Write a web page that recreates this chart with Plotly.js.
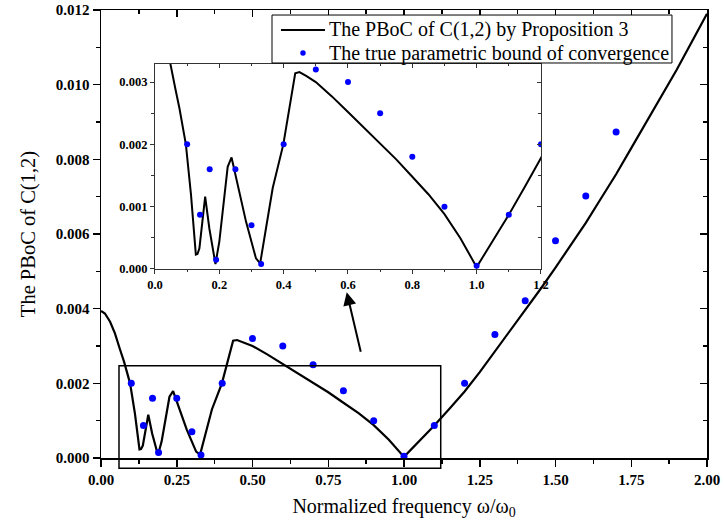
<!DOCTYPE html>
<html>
<head>
<meta charset="utf-8">
<script src="https://cdn.plot.ly/plotly-3.0.1.min.js"></script>
<style>html,body{margin:0;padding:0;background:#fff;}</style>
</head>
<body>
<div id="chart" style="width:724px;height:529px;"></div>
<script>
// PBoC curve by Proposition 3 (normalized frequency, value)
var curveX = [0.000, 0.013, 0.030, 0.046, 0.063, 0.076, 0.096, 0.112, 0.127, 0.132, 0.138, 0.156, 0.169,
              0.188, 0.200, 0.226, 0.238, 0.252, 0.283, 0.314, 0.327, 0.345, 0.366, 0.399, 0.436, 0.449,
              0.470, 0.500, 0.550, 0.600, 0.650, 0.700, 0.750, 0.800, 0.850, 0.900, 0.950, 1.000, 1.050,
              1.100, 1.150, 1.200, 1.250, 1.300, 1.350, 1.400, 1.450, 1.500, 1.550, 1.600, 1.650, 1.700,
              1.750, 1.800, 1.850, 1.900, 1.950, 2.000];
var curveY = [0.00394, 0.00387, 0.00365, 0.00334, 0.00290, 0.00258, 0.00200, 0.00119, 0.00023, 0.00024,
              0.00033, 0.00116, 0.00065, 0.00008, 0.00044, 0.00164, 0.00179, 0.00146, 0.00076, 0.00017,
              0.00009, 0.00065, 0.00130, 0.00200, 0.00314, 0.00316, 0.00310, 0.00300, 0.00277, 0.00252,
              0.00227, 0.00201, 0.00176, 0.00148, 0.00120, 0.00088, 0.00049, 0.00003, 0.00045, 0.00087,
              0.00132, 0.00178, 0.00230, 0.00285, 0.00340, 0.00395, 0.00452, 0.00510, 0.00570, 0.00630,
              0.00695, 0.00760, 0.00830, 0.00900, 0.00970, 0.01040, 0.01115, 0.01190];
// True parametric bound of convergence
var trueX = [0.10, 0.14, 0.17, 0.19, 0.25, 0.30, 0.33, 0.40, 0.50, 0.60, 0.70, 0.80, 0.90, 1.00, 1.10,
             1.20, 1.30, 1.40, 1.50, 1.60, 1.70];
var trueY = [0.00200, 0.00087, 0.00160, 0.00015, 0.00160, 0.00070, 0.00008, 0.00200, 0.00320, 0.00300,
             0.00250, 0.00180, 0.00100, 0.00005, 0.00087, 0.00200, 0.00331, 0.00421, 0.00582, 0.00702,
             0.00873];
var seriesNames = ['The PBoC of C(1,2) by Proposition 3', 'The true parametric bound of convergence'];

var FF = 'Liberation Serif, Times New Roman, serif';
var tickFontMain = {family: FF, size: 15, color: '#000', weight: 'bold'};
var tickFontInset = {family: FF, size: 12.5, color: '#000', weight: 'bold'};

var traces = [
  {x: curveX, y: curveY, mode: 'lines', name: seriesNames[0], line: {color: '#000', width: 2.2},
   xaxis: 'x', yaxis: 'y', hoverinfo: 'skip'},
  {x: trueX, y: trueY, mode: 'markers', name: seriesNames[1], marker: {color: '#0000ff', size: 7},
   xaxis: 'x', yaxis: 'y', hoverinfo: 'skip'},
  {x: curveX, y: curveY, mode: 'lines', showlegend: false, line: {color: '#000', width: 2},
   xaxis: 'x2', yaxis: 'y2', hoverinfo: 'skip'},
  {x: trueX, y: trueY, mode: 'markers', showlegend: false, marker: {color: '#0000ff', size: 6},
   xaxis: 'x2', yaxis: 'y2', hoverinfo: 'skip', cliponaxis: true},
  {x: [0], y: [0], mode: 'markers', showlegend: false, marker: {opacity: 0},
   xaxis: 'x3', yaxis: 'y3', hoverinfo: 'skip'},
  {x: [0], y: [0], mode: 'markers', showlegend: false, marker: {opacity: 0},
   xaxis: 'x4', yaxis: 'y4', hoverinfo: 'skip'}
];

var mainAxisCommon = {showgrid: false, zeroline: false, showline: true, linecolor: '#000', linewidth: 1.5,
  ticklen: 7, tickwidth: 1.5, tickcolor: '#000'};
var insetAxisCommon = {showgrid: false, zeroline: false, showline: true, linecolor: '#333', linewidth: 1,
  ticklen: 4, tickwidth: 1, tickcolor: '#333'};

// Compact boxed legend (drawn as shapes + text annotations to match the reference's tight spacing)
var legendFont = {family: FF, size: 20, color: '#000'};

var layout = {
  width: 724, height: 529,
  margin: {l: 101, r: 17, t: 10, b: 71},
  paper_bgcolor: '#fff', plot_bgcolor: 'rgba(0,0,0,0)',
  font: {family: FF, color: '#000'},
  showlegend: false,
  xaxis: Object.assign({}, mainAxisCommon, {domain: [0, 1], range: [0, 2], tick0: 0, dtick: 0.25,
    tickformat: '.2f', ticks: 'outside', anchor: 'y', tickfont: tickFontMain,
    minor: {dtick: 0.125, ticks: 'outside', ticklen: 4, tickwidth: 1.5, tickcolor: '#000', showgrid: false},
    title: {text: 'Normalized frequency ω/ω<sub>0</sub>', font: {family: FF, size: 20, color: '#000'}, standoff: 12}}),
  yaxis: Object.assign({}, mainAxisCommon, {domain: [0, 1], range: [0, 0.012], tick0: 0, dtick: 0.002,
    tickformat: '.3f', ticks: 'outside', anchor: 'x', tickfont: tickFontMain,
    minor: {dtick: 0.001, ticks: 'outside', ticklen: 4, tickwidth: 1.5, tickcolor: '#000', showgrid: false},
    title: {text: 'The PBoC of C(1,2)', font: {family: FF, size: 20.5, color: '#000'}, standoff: 14}}),
  xaxis3: Object.assign({}, mainAxisCommon, {overlaying: 'x', side: 'top', anchor: 'y3', range: [0, 2],
    tick0: 0, dtick: 0.25, ticks: 'inside', showticklabels: false,
    minor: {dtick: 0.125, ticks: 'inside', ticklen: 4, tickwidth: 1.5, tickcolor: '#000', showgrid: false}}),
  yaxis3: Object.assign({}, mainAxisCommon, {overlaying: 'y', side: 'right', anchor: 'x3', range: [0, 0.012],
    tick0: 0, dtick: 0.002, ticks: 'inside', showticklabels: false,
    minor: {dtick: 0.001, ticks: 'inside', ticklen: 4, tickwidth: 1.5, tickcolor: '#000', showgrid: false}}),
  xaxis2: Object.assign({}, insetAxisCommon, {domain: [0.0891, 0.726], anchor: 'y2', range: [0, 1.2],
    tick0: 0, dtick: 0.2, tickformat: '.1f', ticks: 'outside', tickfont: tickFontInset,
    minor: {dtick: 0.1, ticks: 'outside', ticklen: 2.5, tickwidth: 1, tickcolor: '#333', showgrid: false}}),
  yaxis2: Object.assign({}, insetAxisCommon, {domain: [0.4219, 0.8795], anchor: 'x2', range: [0, 0.00329],
    tick0: 0, dtick: 0.001, tickformat: '.3f', ticks: 'outside', tickfont: tickFontInset,
    minor: {dtick: 0.0005, ticks: 'outside', ticklen: 2.5, tickwidth: 1, tickcolor: '#333', showgrid: false}}),
  xaxis4: Object.assign({}, insetAxisCommon, {overlaying: 'x2', side: 'top', anchor: 'y4', range: [0, 1.2],
    tick0: 0, dtick: 0.2, ticks: 'inside', showticklabels: false,
    minor: {dtick: 0.1, ticks: 'inside', ticklen: 2.5, tickwidth: 1, tickcolor: '#333', showgrid: false}}),
  yaxis4: Object.assign({}, insetAxisCommon, {overlaying: 'y2', side: 'right', anchor: 'x4', range: [0, 0.00329],
    tick0: 0, dtick: 0.001, ticks: 'inside', showticklabels: false,
    minor: {dtick: 0.0005, ticks: 'inside', ticklen: 2.5, tickwidth: 1, tickcolor: '#333', showgrid: false}}),
  shapes: [
    // zoom-region rectangle
    {type: 'rect', xref: 'paper', yref: 'paper', x0: 0.0297, x1: 0.5606, y0: -0.023, y1: 0.206,
     line: {color: '#000', width: 1.5}, fillcolor: 'rgba(0,0,0,0)', layer: 'above'},
    // legend box
    {type: 'rect', xref: 'paper', yref: 'paper', x0: 0.2822, x1: 0.9422, y0: 0.8817, y1: 0.9888,
     line: {color: '#000', width: 1}, fillcolor: '#fff', layer: 'above'},
    // legend line sample
    {type: 'line', xref: 'paper', yref: 'paper', x0: 0.2970, x1: 0.3696, y0: 0.9554, y1: 0.9554,
     line: {color: '#000', width: 2.2}, layer: 'above'},
    // legend marker sample
    {type: 'circle', xref: 'paper', yref: 'paper', x0: 0.3288, x1: 0.3378, y0: 0.8980, y1: 0.9100,
     line: {color: '#0000ff', width: 0}, fillcolor: '#0000ff', layer: 'above'}
  ],
  annotations: [
    {x: 0.811, y: 0.00444, xref: 'x', yref: 'y', text: ' ', showarrow: true, ax: 16, ay: 68,
     arrowhead: 2, arrowsize: 1.3, arrowwidth: 2, arrowcolor: '#000', standoff: 0},
    {x: 0.3729, y: 0.9554, xref: 'paper', yref: 'paper', text: seriesNames[0], showarrow: false,
     xanchor: 'left', yanchor: 'middle', font: legendFont},
    {x: 0.3729, y: 0.9040, xref: 'paper', yref: 'paper', text: seriesNames[1], showarrow: false,
     xanchor: 'left', yanchor: 'middle', font: legendFont}
  ]
};

Plotly.newPlot('chart', traces, layout, {staticPlot: true, displayModeBar: false});
</script>
</body>
</html>
